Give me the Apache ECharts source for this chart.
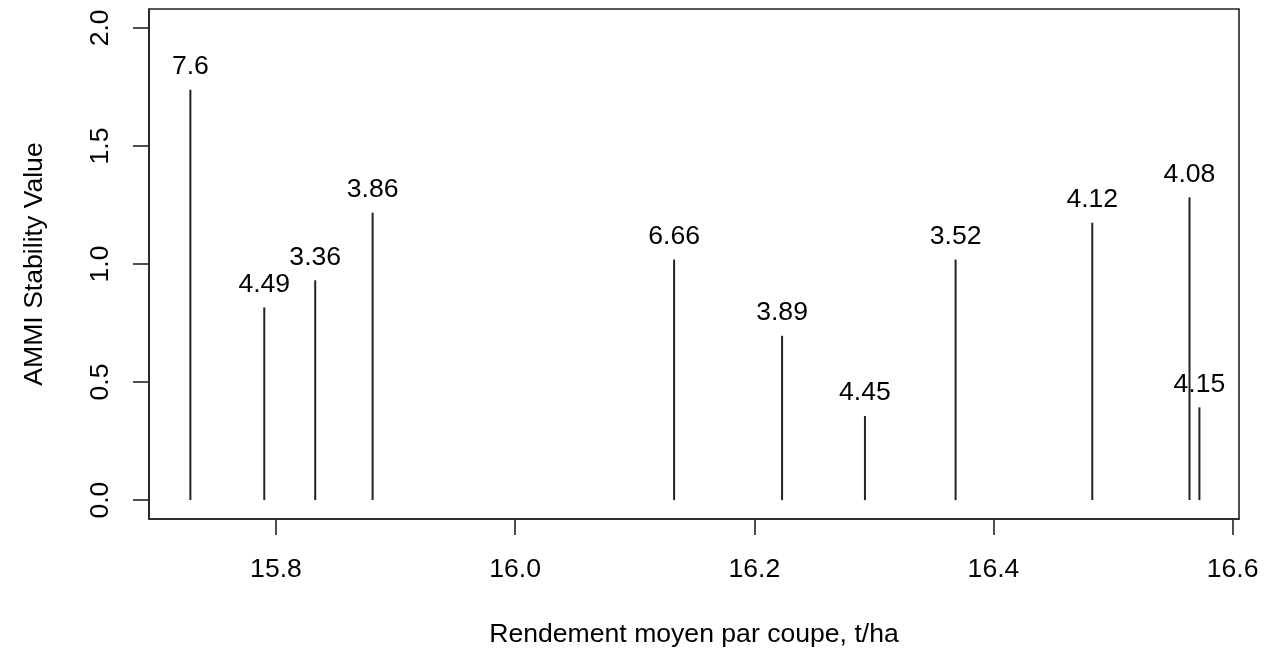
<!DOCTYPE html>
<html>
<head>
<meta charset="utf-8">
<script src="https://cdn.jsdelivr.net/npm/echarts@6/dist/echarts.min.js"></script>
<style>
html,body{margin:0;padding:0;background:#fff;}
#chart{width:1274px;height:654px;}
</style>
</head>
<body>
<div id="chart"></div>
<script>
// Data
const yieldValues = [15.7284, 15.7902, 15.8328, 15.8808, 16.1329, 16.2232, 16.2925, 16.3683, 16.4826, 16.5639, 16.5722];
const stabilityValues = [1.738, 0.816, 0.931, 1.217, 1.019, 0.696, 0.356, 1.019, 1.175, 1.283, 0.393];
const pointLabels = ['7.6', '4.49', '3.36', '3.86', '6.66', '3.89', '4.45', '3.52', '4.12', '4.08', '4.15'];
const xTicks = [15.8, 16.0, 16.2, 16.4, 16.6];
const yTicks = [0, 0.5, 1.0, 1.5, 2.0];

const FONT = '"Liberation Sans", Arial, sans-serif';
const FS = 26.6;
const chart = echarts.init(document.getElementById('chart'), null, {renderer: 'canvas'});

const seriesData = yieldValues.map((x, i) => [x, stabilityValues[i]]);

const option = {
  animation: false,
  backgroundColor: '#ffffff',
  grid: {
    left: 149, right: 35, top: 9, bottom: 135,
    show: true, borderColor: '#222', borderWidth: 1.6, backgroundColor: 'transparent'
  },
  xAxis: {
    type: 'value',
    min: 15.6938, max: 16.6053,
    name: 'Rendement moyen par coupe, t/ha',
    nameLocation: 'middle',
    nameGap: 102,
    nameTextStyle: {fontFamily: FONT, fontSize: FS, color: '#000'},
    axisLine: {show: true, onZero: false, lineStyle: {color: '#222', width: 1.6}},
    axisTick: {show: true, length: 16, lineStyle: {color: '#222', width: 1.6}, customValues: xTicks},
    axisLabel: {
      show: true, margin: 37, fontFamily: FONT, fontSize: FS, color: '#000',
      customValues: xTicks,
      formatter: v => Number(v).toFixed(1)
    },
    splitLine: {show: false}
  },
  yAxis: {
    type: 'value',
    min: -0.08, max: 2.08,
    name: 'AMMI Stability Value',
    nameLocation: 'middle',
    nameRotate: 90,
    nameGap: 101,
    nameTextStyle: {fontFamily: FONT, fontSize: FS, color: '#000'},
    axisLine: {show: true, onZero: false, lineStyle: {color: '#222', width: 1.6}},
    axisTick: {show: true, length: 16, lineStyle: {color: '#222', width: 1.6}, customValues: yTicks},
    axisLabel: {
      show: true, margin: 35, rotate: 90, fontFamily: FONT, fontSize: FS, color: '#000',
      customValues: yTicks,
      formatter: v => Number(v).toFixed(1)
    },
    splitLine: {show: false}
  },
  series: [{
    type: 'custom',
    data: seriesData,
    clip: false,
    renderItem: function (params, api) {
      const x = api.value(0), y = api.value(1);
      const p0 = api.coord([x, 0]);
      const p1 = api.coord([x, y]);
      return {
        type: 'group',
        children: [
          {type: 'line', shape: {x1: p0[0], y1: p0[1], x2: p1[0], y2: p1[1]},
           style: {stroke: '#222', lineWidth: 2}},
          {type: 'text', style: {text: pointLabels[params.dataIndex], x: p1[0], y: p1[1] - 23,
           align: 'center', verticalAlign: 'middle', font: FS + 'px ' + FONT, fill: '#000'}}
        ]
      };
    }
  }]
};
chart.setOption(option);
</script>
</body>
</html>
